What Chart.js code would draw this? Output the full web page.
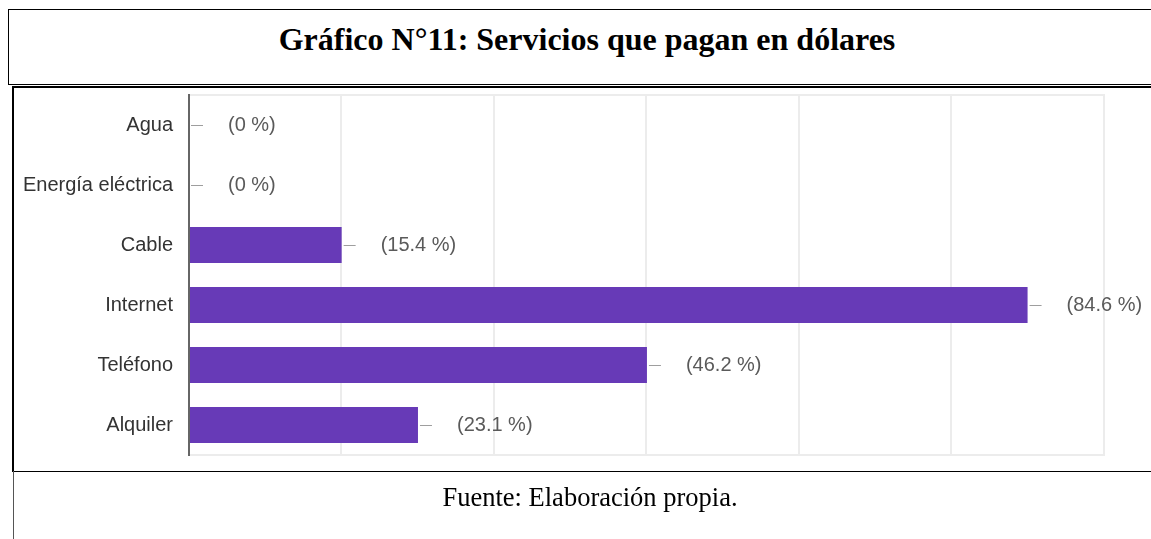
<!DOCTYPE html>
<html>
<head>
<meta charset="utf-8">
<script src="https://cdn.jsdelivr.net/npm/chart.js@4"></script>
<style>
  body { margin: 0; background: #fff; width: 1151px; height: 539px; overflow: hidden; position: relative; }
  .line { position: absolute; background: #000; }
  .titulo { position: absolute; left: 0; width: 1174px; top: 23px; text-align: center;
    font: bold 32px "Liberation Serif", "Times New Roman", serif; line-height: 32px; color: #000; }
  .fuente { position: absolute; left: 0; width: 1180px; top: 484px; text-align: center;
    font: 26.5px "Liberation Serif", "Times New Roman", serif; line-height: 26px; color: #000; }
  #grafico { position: absolute; left: 14px; top: 67px; }
</style>
</head>
<body>
<!-- marco tipo tabla -->
<div class="line" style="left:8px; top:9px; width:1143px; height:1px;"></div>
<div class="line" style="left:8px; top:9px; width:1px; height:76px;"></div>
<div class="line" style="left:8px; top:84px; width:1143px; height:1px;"></div>
<div class="line" style="left:12px; top:86px; width:1139px; height:2px;"></div>
<div class="line" style="left:12px; top:86px; width:2px; height:386px;"></div>
<div class="line" style="left:12px; top:471px; width:1139px; height:1px;"></div>
<div class="line" style="left:13px; top:471px; width:1px; height:68px; background:#555;"></div>

<div class="titulo">Gráfico N°11: Servicios que pagan en dólares</div>
<canvas id="grafico" width="1137" height="416"></canvas>
<div class="fuente">Fuente: Elaboración propia.</div>

<script>
// ===== DATA =====
const categorias = ['Agua', 'Energía eléctrica', 'Cable', 'Internet', 'Teléfono', 'Alquiler']
const porcentajes = [0, 0, 15.4, 84.6, 46.2, 23.1]
// lineas de grilla (cada 2 de 13 respuestas)
const gridTicks = [0, 15.38, 30.77, 46.15, 61.54, 76.92, 92.31]

// ===== PLUGIN ETIQUETAS (stem + texto) =====
const etiquetasPlugin = {
  id: 'etiquetas',
  afterDatasetsDraw(chart) {
    const ctx = chart.ctx
    const meta = chart.getDatasetMeta(0)
    ctx.save()
    meta.data.forEach((bar, i) => {
      const x = bar.x
      const y = bar.y
      ctx.strokeStyle = '#9e9e9e'
      ctx.lineWidth = 1
      ctx.beginPath()
      ctx.moveTo(x + 2, y + 0.5)
      ctx.lineTo(x + 14, y + 0.5)
      ctx.stroke()
      ctx.fillStyle = '#5a5a5a'
      ctx.font = '20px "Liberation Sans", Arial, sans-serif'
      ctx.textBaseline = 'middle'
      ctx.textAlign = 'left'
      ctx.fillText('(' + porcentajes[i] + ' %)', x + 39, y)
    })
    ctx.restore()
  }
}

const ctx = document.getElementById('grafico').getContext('2d')

new Chart(ctx, {
  type: 'bar',
  data: {
    labels: categorias,
    datasets: [{
      data: porcentajes,
      backgroundColor: '#673ab7',
      barPercentage: 0.6,
      categoryPercentage: 1
    }]
  },
  options: {
    indexAxis: 'y',
    responsive: false,
    animation: false,
    layout: { padding: { top: 0, right: 47, bottom: 0, left: 0 } },
    plugins: {
      legend: { display: false },
      tooltip: { enabled: false }
    },
    scales: {
      x: {
        min: 0,
        max: 92.31,
        afterBuildTicks: function(scale) {
          scale.ticks = gridTicks.map(v => ({ value: v }))
        },
        ticks: { display: false },
        grid: { color: '#ececec', lineWidth: 2, drawTicks: false },
        border: { color: '#ececec', width: 2 }
      },
      x2: {
        position: 'top',
        min: 0,
        max: 92.31,
        ticks: { display: false },
        grid: { display: false, drawTicks: false },
        border: { color: '#ececec', width: 2 }
      },
      y: {
        afterFit: function(scale) {
          scale.width = 175
        },
        ticks: {
          padding: 16,
          color: '#333',
          font: { family: '"Liberation Sans", Arial, sans-serif', size: 20 }
        },
        grid: { display: false, drawTicks: false },
        border: { color: '#666', width: 2 }
      }
    }
  },
  plugins: [etiquetasPlugin]
})
</script>
</body>
</html>
